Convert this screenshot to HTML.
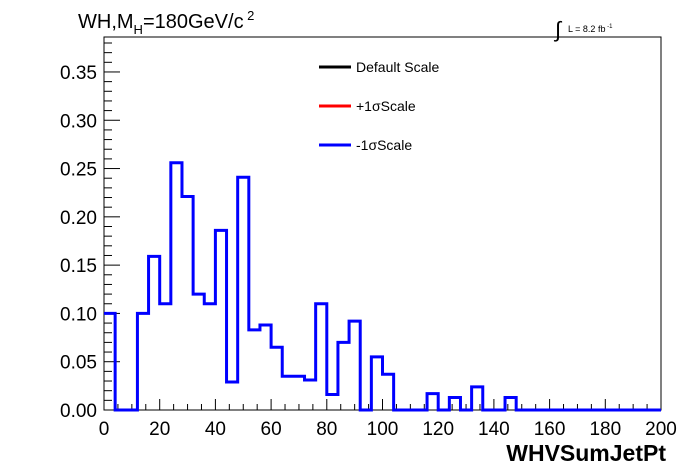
<!DOCTYPE html>
<html><head><meta charset="utf-8"><style>
html,body{margin:0;padding:0;background:#fff}
svg{display:block;font-family:"Liberation Sans",sans-serif}
</style></head><body>
<svg id="chart" width="696" height="472" viewBox="0 0 696 472">
<rect x="0" y="0" width="696" height="472" fill="#fff"/>
<g id="axes"></g>
<path id="hist" fill="none" stroke="#0000ff" stroke-width="3"/>
<text x="78" y="28" font-size="20">WH,M<tspan font-size="13" dy="6">H</tspan><tspan dy="-6">=180GeV/c</tspan><tspan font-size="13" dy="-8"> 2</tspan></text>
<text x="555" y="37" font-size="22">∫</text>
<text x="568" y="32" font-size="9">L = 8.2 fb<tspan font-size="6" dy="-4"> -1</tspan></text>
<g>
<line x1="319" y1="67" x2="351" y2="67" stroke="#000" stroke-width="3"/>
<text x="356" y="72" font-size="14">Default Scale</text>
<line x1="319" y1="106" x2="351" y2="106" stroke="#ff0000" stroke-width="3"/>
<text x="356" y="111" font-size="14">+1σScale</text>
<line x1="319" y1="145" x2="351" y2="145" stroke="#0000ff" stroke-width="3"/>
<text x="356" y="150" font-size="14">-1σScale</text>
</g>
<text x="666" y="461" font-size="23" font-weight="bold" text-anchor="end">WHVSumJetPt</text>
</svg>
<script>
const binEdgesStart = 0;
const binWidth = 4;
const binValues = [0.10,0,0,0.10,0.159,0.11,0.256,0.221,0.12,0.11,0.186,0.029,0.241,0.083,0.088,0.065,0.035,0.035,0.031,0.11,0.016,0.07,0.092,0,0.055,0.037,0,0,0,0.017,0,0.013,0,0.024,0,0,0.013,0,0,0,0,0,0,0,0,0,0,0,0,0];
const xTickLabels = ["0","20","40","60","80","100","120","140","160","180","200"];
const yTickLabels = ["0.00","0.05","0.10","0.15","0.20","0.25","0.30","0.35"];

const L=104,R=661,T=37,B=410,XMAX=200,YMAX=0.3862;
const sx=v=>L+(v/XMAX)*(R-L);
const sy=v=>B-(v/YMAX)*(B-T);
const NS="http://www.w3.org/2000/svg";
const ax=document.getElementById('axes');
function mk(tag,attrs){const e=document.createElementNS(NS,tag);for(const k in attrs)e.setAttribute(k,attrs[k]);ax.appendChild(e);return e;}
const frame=mk('rect',{x:L,y:T,width:R-L,height:B-T,fill:'none',stroke:'#000','stroke-width':1});


for(let v=0;v<=XMAX;v+=5){const major=v%20===0;const t=mk('line',{x1:sx(v),x2:sx(v),y1:B,y2:B-(major?11:6),stroke:'#000'});

}
xTickLabels.forEach(s=>{const t=mk('text',{x:sx(+s),y:B+25,'font-size':19,'text-anchor':'middle'});t.textContent=s;

});
for(let i=0;i<=38;i++){const v=i*0.01;const major=i%5===0;const t=mk('line',{x1:L,x2:L+(major?16:8),y1:sy(v),y2:sy(v),stroke:'#000'});

}
yTickLabels.forEach(s=>{const t=mk('text',{x:L-7,y:sy(+s)+7,'font-size':19,'text-anchor':'end'});t.textContent=s;

});
let d='';
binValues.forEach((v,i)=>{const x0=sx(binEdgesStart+i*binWidth),x1=sx(binEdgesStart+(i+1)*binWidth),y=sy(v);
d+=(i===0?'M'+x0+','+y:'L'+x0+','+y)+'L'+x1+','+y;});
document.getElementById('hist').setAttribute('d',d);
</script>
</body></html>
